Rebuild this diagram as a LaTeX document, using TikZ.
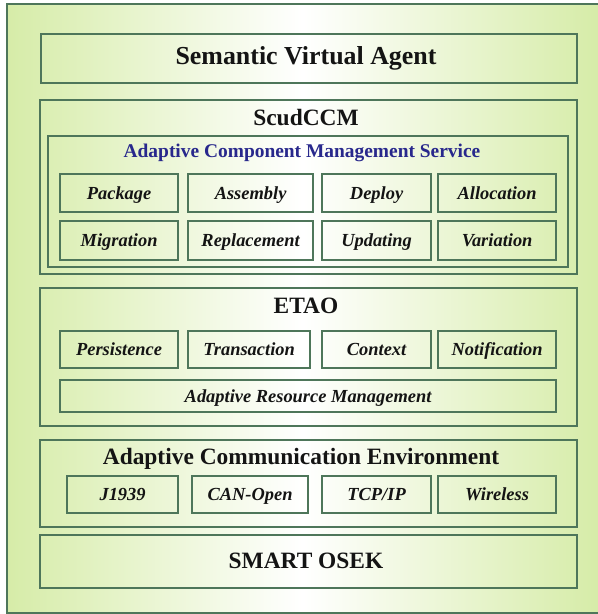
\documentclass[tikz,border=0pt]{standalone}
\usepackage{fontspec}
\setmainfont{Liberation Serif}
\definecolor{edge}{RGB}{78,118,90}
\definecolor{lgreen}{RGB}{214,236,168}
\definecolor{ink}{RGB}{20,20,20}
\definecolor{navy}{RGB}{40,40,140}
\tikzset{
  layer/.style={draw=edge, line width=2.2pt, anchor=north west, inner sep=0pt},
  item/.style={draw=edge, line width=2.2pt, anchor=north west, inner sep=0pt,
    text height=12pt, text depth=0pt,
    font=\fontsize{18.5}{20}\selectfont\bfseries\itshape, text=ink},
  lowitem/.style={item, text depth=-5pt},
  title/.style={font=\fontsize{23.5}{26}\selectfont\bfseries, text=ink, inner sep=0pt, anchor=base},
}
\newcommand{\bx}[6]{\node[#1, minimum width=#4bp-#2bp, minimum height=#5bp-#3bp] (#6) at (#2,-#3)}
\begin{document}
\begin{tikzpicture}[x=1bp,y=1bp]
\useasboundingbox (0,0) rectangle (598,-614);
\fill[white] (0,0) rectangle (598,-614);
\shade[left color=lgreen, right color=lgreen, middle color=white] (7,-4) rectangle (598,-613);
\draw[edge, line width=2.4pt] (598,-4) -- (7,-4) -- (7,-613) -- (598,-613);

% Semantic Virtual Agent
\bx{layer}{40}{33}{576}{82}{sva} {};
\node[title, font=\fontsize{26}{28}\selectfont\bfseries] (svat) at (306,-65) {Semantic Virtual Agent};

% ScudCCM
\bx{layer}{39}{99}{576}{273}{scud} {};
\node[title] (scudt) at (306,-126) {ScudCCM};
\bx{layer}{47}{135}{567}{266}{acms} {};
\node[title, font=\fontsize{19.5}{21}\selectfont\bfseries, text=navy] (acmst) at (302,-158) {Adaptive Component Management Service};
\bx{item}{59}{173}{177}{211}{pkg} {Package};
\bx{item}{187}{173}{312}{211}{asm} {Assembly};
\bx{item}{321}{173}{430}{211}{dep} {Deploy};
\bx{item}{437}{173}{555}{211}{alc} {Allocation};
\bx{item}{59}{220}{177}{259}{mig} {Migration};
\bx{item}{187}{220}{312}{259}{rep} {Replacement};
\bx{item}{321}{220}{430}{259}{upd} {Updating};
\bx{item}{437}{220}{555}{259}{var} {Variation};

% ETAO
\bx{layer}{39}{287}{576}{425}{etao} {};
\node[title] (etaot) at (306,-313) {ETAO};
\bx{item}{59}{330}{177}{367}{per} {Persistence};
\bx{item}{187}{330}{309}{367}{tra} {Transaction};
\bx{item}{321}{330}{430}{367}{ctx} {Context};
\bx{item}{437}{330}{555}{367}{noti} {Notification};
\bx{item}{59}{379}{555}{411}{arm} {Adaptive Resource Management};

% ACE
\bx{layer}{39}{439}{576}{526}{ace} {};
\node[title] (acet) at (301,-464) {Adaptive Communication Environment};
\bx{lowitem}{66}{475}{177}{512}{jx} {J1939};
\bx{lowitem}{191}{475}{307}{512}{can} {CAN-Open};
\bx{lowitem}{321}{475}{430}{512}{tcp} {TCP/IP};
\bx{lowitem}{437}{475}{555}{512}{wls} {Wireless};

% SMART OSEK
\bx{layer}{39}{534}{576}{587}{osek} {};
\node[title] (osekt) at (306,-568) {SMART OSEK};
\end{tikzpicture}
\end{document}
